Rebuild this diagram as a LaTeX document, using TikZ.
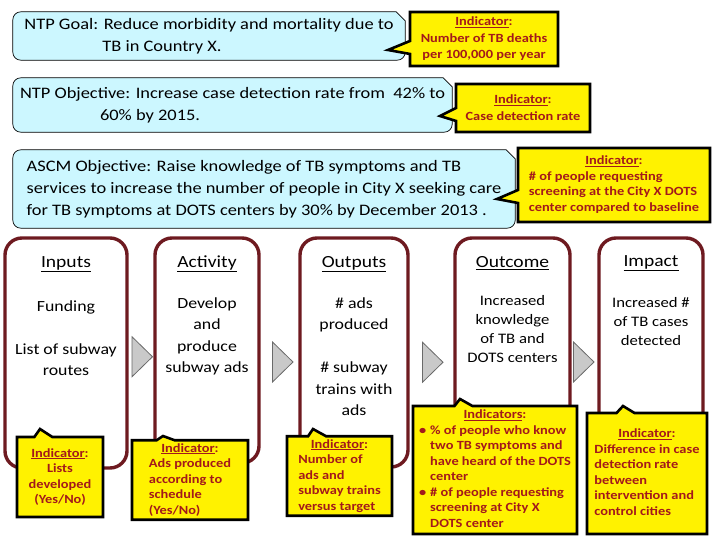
\documentclass[tikz,border=0pt]{standalone}
\usepackage{fontspec}
\setmainfont{Carlito}[FakeStretch=1.15]
\usetikzlibrary{calc,positioning,backgrounds,shapes.callouts}
\definecolor{skyfill}{HTML}{CCF7FF}
\definecolor{maroon}{HTML}{6E1A20}
\definecolor{indred}{HTML}{A3191B}
\definecolor{chevgray}{HTML}{C9C9C9}
\definecolor{chevline}{HTML}{6A6A6A}
\newcommand\indhead[1]{\underline{#1}:}
\tikzset{
  aimtext/.style={inner sep=0pt,align=left,font=\fontsize{16}{22}\selectfont},
  aimframe/.style={draw=black,fill=skyfill,line width=0.7pt},
  indbox/.style={rectangle callout,draw=black,line width=2.6pt,fill=yellow,text=indred,
    font=\bfseries\fontsize{12.5}{15.5}\selectfont,align=center,inner sep=1pt,callout pointer width=18pt},
  stage/.style={draw=maroon,line width=3.4pt,rounded corners=17pt,fill=white,inner sep=0pt},
  stagehead/.style={inner sep=0pt,font=\fontsize{17}{20}\selectfont},
  stagetext/.style={inner sep=0pt,align=center,font=\fontsize{15.5}{21.5}\selectfont},
  chev/.style={draw=chevline,fill=chevgray,line width=0.8pt,line join=miter},
}

\begin{document}
\begin{tikzpicture}[x=1pt,y=-1pt]
\useasboundingbox (0,0) rectangle (720,540);

% goal and objectives
\node[aimtext,minimum width=392,minimum height=48] (goal) at (209,36)
  {NTP Goal: Reduce morbidity and mortality due to\\\hspace*{78pt}TB in Country X.};
\node[aimtext,minimum width=439,minimum height=54] (objective) at (232.5,105)
  {NTP Objective: Increase case detection rate from\ \ 42\% to\\\hspace*{80pt}60\% by 2015.};
\node[aimtext,minimum width=502,minimum height=78] (ascm) at (264,189)
  {ASCM Objective: Raise knowledge of TB symptoms and TB\\services to increase the number of people in City X seeking care\\for TB symptoms at DOTS centers by 30\% by December 2013 .};
\begin{scope}[on background layer]
\foreach \n in {goal,objective,ascm}
  \filldraw[aimframe] ([xshift=8pt]\n.south west) -- ([xshift=-8pt]\n.south east)
    arc[start angle=-90,end angle=0,radius=8pt] -- ([yshift=-9pt]\n.north east)
    -- ([xshift=-9pt]\n.north east) -- ([xshift=8pt]\n.north west)
    arc[start angle=90,end angle=180,radius=8pt] -- ([yshift=8pt]\n.south west)
    arc[start angle=180,end angle=270,radius=8pt] -- cycle;
\end{scope}

\node[indbox,font=\bfseries\fontsize{12.5}{16.5}\selectfont,callout pointer width=13pt,
  minimum width=148,minimum height=54,callout absolute pointer={(388,50)}] (goalind) at (484,39)
  {\indhead{Indicator}\\Number of TB deaths\\per 100,000 per year};
\node[indbox,font=\bfseries\fontsize{12.5}{17}\selectfont,callout pointer width=13pt,
  minimum width=134,minimum height=48,callout absolute pointer={(440,116)}] (objind) at (523,108)
  {\indhead{Indicator}\\Case detection rate};
\node[indbox,callout pointer width=13pt,minimum width=192,minimum height=74,
  callout absolute pointer={(497,199)}] (ascmind) at (614,185)
  {\begin{tabular}{@{}l@{}}\multicolumn{1}{@{}c@{}}{\indhead{Indicator}}\\\# of people requesting\\screening at the City X DOTS\\center compared to baseline\end{tabular}};

% logic model columns
\node[stage,minimum width=122,minimum height=230] (inputs) at (66,353) {};
\node[stage,minimum width=104,minimum height=225] (activity) at (207,350.5) {};
\node[stage,minimum width=108,minimum height=229] (outputs) at (354,352.5) {};
\node[stage,minimum width=115,minimum height=232] (outcome) at (512.5,354) {};
\node[stage,minimum width=104,minimum height=232] (impact) at (651,354) {};

\node[stagehead,below=20pt of inputs.north] (inputshead) {\underline{Inputs}};
\node[stagehead,below=19pt of activity.north] (activityhead) {\underline{Activity}};
\node[stagehead,below=20pt of outputs.north] (outputshead) {\underline{Outputs}};
\node[stagehead,below=20pt of outcome.north] (outcomehead) {\underline{Outcome}};
\node[stagehead,below=19pt of impact.north] (impacthead) {\underline{Impact}};

\node[stagetext,below=64pt of inputs.north] (inputstext) {Funding\\[21.5pt]List of subway\\routes};
\node[stagetext,below=61pt of activity.north] (activitytext) {Develop\\and\\produce\\subway ads};
\node[stagetext,below=61pt of outputs.north] (outputstext) {\# ads\\produced\\[21.5pt]\# subway\\trains with\\ads};
\node[stagetext,font=\fontsize{14.5}{19}\selectfont,below=59pt of outcome.north] (outcometext)
  {Increased\\knowledge\\of TB and\\DOTS centers};
\node[stagetext,font=\fontsize{14.5}{19}\selectfont,below=61pt of impact.north] (impacttext)
  {Increased \#\\of TB cases\\detected};

% chevrons between columns
\foreach \a/\b/\dx/\dy in {inputs/activity/1/5,activity/outputs/3/10.5,outputs/outcome/1/9,outcome/impact/-1/8}{
  \path ($(\a.east)!.5!(\b.west)$) ++(\dx,\dy) coordinate (m);
  \draw[chev] ($(m)+(-10,-20)$) -- ($(m)+(10.5,0)$) -- ($(m)+(-10,20)$) -- cycle;
}

% indicators of the columns
\node[indbox,minimum width=86,minimum height=80,callout absolute pointer={(40,429)}] (inputsind) at (60,477)
  {\indhead{Indicator}\\Lists\\developed\\(Yes/No)};
\node[indbox,minimum width=116,minimum height=74,callout absolute pointer={(163,436)}] (activityind) at (190,480)
  {\begin{tabular}{@{}l@{}}\multicolumn{1}{@{}c@{}}{\indhead{Indicator}}\\Ads produced\\according to\\schedule\\(Yes/No)\end{tabular}};
\node[indbox,minimum width=105,minimum height=78,callout absolute pointer={(313,429)}] (outputsind) at (339.5,476)
  {\begin{tabular}{@{}l@{}}\multicolumn{1}{@{}c@{}}{\indhead{Indicator}}\\Number of\\ads and\\subway trains\\versus target\end{tabular}};
\node[indbox,minimum width=164,minimum height=128,callout absolute pointer={(460,399)}] (outcomeind) at (495,470)
  {\begin{tabular}{@{}l@{\hspace{4pt}}l@{}}\multicolumn{2}{@{}c@{}}{\indhead{Indicators}}\\
   \textbullet & \% of people who know\\ & two TB symptoms and\\ & have heard of the DOTS\\ & center\\
   \textbullet & \# of people requesting\\ & screening at City X\\ & DOTS center\end{tabular}};
\node[indbox,minimum width=120,minimum height=121,callout absolute pointer={(623,406)}] (impactind) at (647,473.5)
  {\begin{tabular}{@{}l@{}}\multicolumn{1}{@{}c@{}}{\indhead{Indicator}}\\Difference in case\\detection rate\\between\\intervention and\\control cities\end{tabular}};
\end{tikzpicture}
\end{document}
